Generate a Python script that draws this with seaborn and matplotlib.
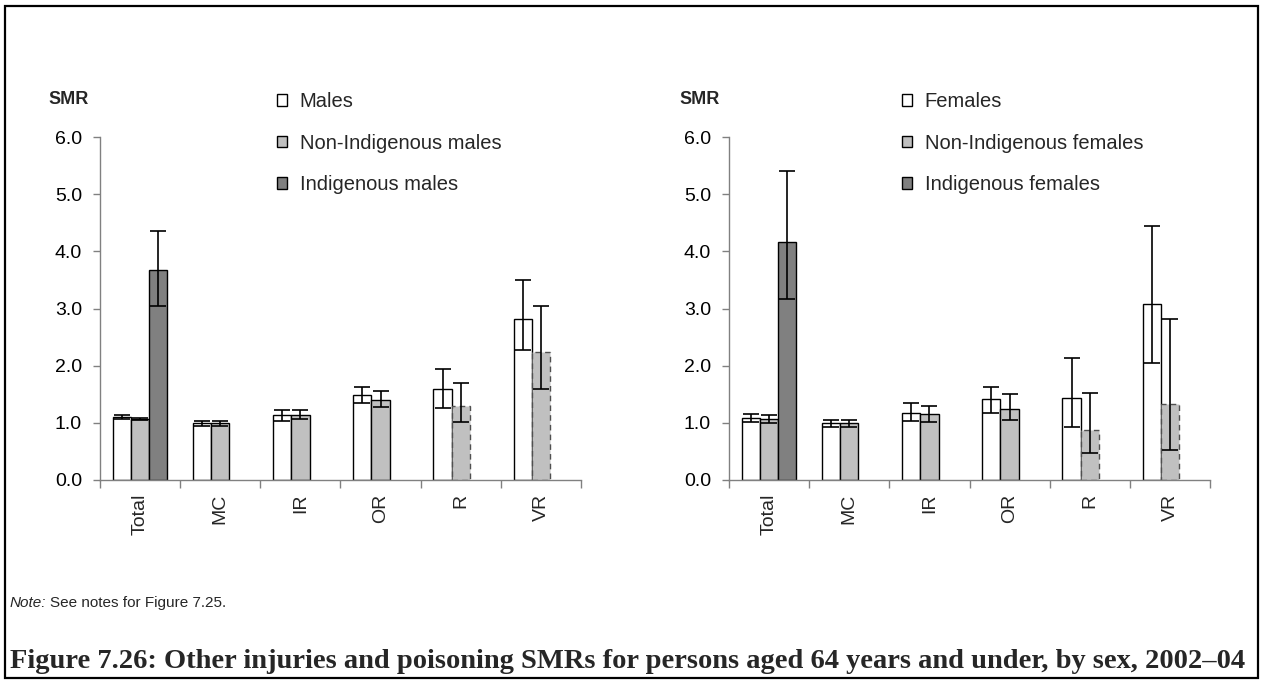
import matplotlib
matplotlib.use("Agg")
import matplotlib.pyplot as plt
import seaborn as sns
import pandas as pd
from matplotlib.patches import Rectangle
from matplotlib.container import BarContainer
from matplotlib.ticker import FixedLocator, FormatStrFormatter

# ---- data -------------------------------------------------------------
categories = ["Total", "MC", "IR", "OR", "R", "VR"]

male_groups = ["Males", "Non-Indigenous males", "Indigenous males"]
male_all = [1.10, 0.99, 1.13, 1.49, 1.59, 2.82]
male_all_lo = [1.07, 0.95, 1.04, 1.34, 1.26, 2.28]
male_all_hi = [1.13, 1.03, 1.23, 1.62, 1.95, 3.50]
male_nonind = [1.07, 0.99, 1.14, 1.40, 1.30, 2.24]
male_nonind_lo = [1.05, 0.95, 1.06, 1.27, 1.01, 1.59]
male_nonind_hi = [1.09, 1.03, 1.23, 1.56, 1.69, 3.04]
male_ind = [3.68]
male_ind_lo = [3.05]
male_ind_hi = [4.36]

female_groups = ["Females", "Non-Indigenous females", "Indigenous females"]
female_all = [1.09, 0.99, 1.18, 1.41, 1.44, 3.08]
female_all_lo = [1.02, 0.92, 1.04, 1.17, 0.92, 2.05]
female_all_hi = [1.16, 1.05, 1.34, 1.63, 2.14, 4.45]
female_nonind = [1.06, 0.99, 1.15, 1.24, 0.88, 1.33]
female_nonind_lo = [1.00, 0.92, 1.01, 1.05, 0.47, 0.53]
female_nonind_hi = [1.13, 1.05, 1.30, 1.50, 1.53, 2.81]
female_ind = [4.17]
female_ind_lo = [3.17]
female_ind_hi = [5.40]

# Indigenous SMRs are only available for the total
ind_categories = ["Total"]
# non-Indigenous estimates shown with a dashed outline
dashed_categories = ["R", "VR"]

yticks = [0, 1, 2, 3, 4, 5, 6]

# ---- style ------------------------------------------------------------
sns.set_style("ticks")
plt.rcParams["font.family"] = ["Liberation Sans", "DejaVu Sans"]

colors = ["#ffffff", "#c0c0c0", "#808080"]
axis_grey = "#808080"

W, H = 1263, 680
fig = plt.figure(figsize=(W / 100, H / 100), dpi=100)


def fx(px):
    return px / W


def fy(py):
    return 1 - py / H


def build_frame(groups, series):
    rows = []
    for g, (cats, vals, lo, hi) in zip(groups, series):
        for c, v, l, h in zip(cats, vals, lo, hi):
            rows.append({"category": c, "group": g, "smr": v, "lo": l, "hi": h})
    return pd.DataFrame(rows)


def draw_panel(ax, groups, df, legend_x):
    sns.barplot(data=df, x="category", y="smr", hue="group",
                order=categories, hue_order=groups,
                palette=dict(zip(groups, colors)), saturation=1,
                width=0.68, edgecolor="black", linewidth=1.0,
                errorbar=None, legend=False, ax=ax, zorder=2)

    lookup = df.set_index(["group", "category"])
    bar_containers = [c for c in ax.containers if isinstance(c, BarContainer)]
    for gi, container in enumerate(bar_containers):
        g = groups[gi]
        for bar in container:
            xc = bar.get_x() + bar.get_width() / 2
            cat = categories[int(round(xc))]
            row = lookup.loc[(g, cat)]
            v = bar.get_height()
            if gi == 1 and cat in dashed_categories:
                bar.set_linestyle((0, (4, 3)))
                bar.set_edgecolor("#505050")
            ax.errorbar(xc, v, yerr=[[v - row["lo"]], [row["hi"] - v]],
                        fmt="none", ecolor="black", elinewidth=1.2,
                        capsize=6, capthick=1.2, zorder=5)

    ax.set_xlim(-0.5, len(categories) - 0.5)
    ax.set_ylim(0, 6)
    ax.set_xlabel("")
    ax.set_ylabel("")
    sns.despine(ax=ax)
    for side in ("left", "bottom"):
        ax.spines[side].set_color(axis_grey)
        ax.spines[side].set_linewidth(1.0)

    ax.yaxis.set_major_locator(FixedLocator(yticks))
    ax.yaxis.set_major_formatter(FormatStrFormatter("%.1f"))
    ax.tick_params(axis="y", which="major", direction="out", length=5,
                   width=1.0, color=axis_grey, labelsize=14, pad=8,
                   labelcolor="black")

    ax.set_xticks(range(len(categories)))
    ax.set_xticklabels(categories, rotation=90, fontsize=14)
    ax.set_xticks([i - 0.5 for i in range(len(categories) + 1)], minor=True)
    ax.tick_params(axis="x", which="major", length=0, pad=10)
    ax.tick_params(axis="x", which="minor", direction="out", length=6,
                   width=1.0, color=axis_grey)

    handles = [Rectangle((0, 0), 1, 1, facecolor=c, edgecolor="black",
                         linewidth=1.0) for c in colors]
    leg = fig.legend(handles, groups, loc="upper left",
                     bbox_to_anchor=(fx(legend_x), fy(92)),
                     bbox_transform=fig.transFigure, frameon=False,
                     fontsize=14.5, handlelength=0.52, handleheight=0.52,
                     handletextpad=0.6, labelspacing=1.12,
                     borderpad=0, borderaxespad=0)
    return leg


male_df = build_frame(male_groups, [
    (categories, male_all, male_all_lo, male_all_hi),
    (categories, male_nonind, male_nonind_lo, male_nonind_hi),
    (ind_categories, male_ind, male_ind_lo, male_ind_hi),
])
female_df = build_frame(female_groups, [
    (categories, female_all, female_all_lo, female_all_hi),
    (categories, female_nonind, female_nonind_lo, female_nonind_hi),
    (ind_categories, female_ind, female_ind_lo, female_ind_hi),
])

ax_m = fig.add_axes([fx(100), fy(480), fx(581 - 100), (480 - 137) / H])
ax_f = fig.add_axes([fx(729), fy(480), fx(1210 - 729), (480 - 137) / H])

draw_panel(ax_m, male_groups, male_df, 277)
draw_panel(ax_f, female_groups, female_df, 902)

for x in (48, 679):
    fig.text(fx(x), fy(99), "SMR", fontsize=13, fontweight="bold",
             va="center", ha="left")

# note and caption
renderer = fig.canvas.get_renderer()
note = fig.text(fx(10), fy(607), "Note:", fontsize=11, style="italic",
                va="baseline", ha="left")
bb = note.get_window_extent(renderer)
fig.text(fx(bb.x1 + 4), fy(607), "See notes for Figure 7.25.", fontsize=11,
         va="baseline", ha="left")

fig.text(fx(10), fy(668),
         "Figure 7.26: Other injuries and poisoning SMRs for persons aged 64 "
         "years and under, by sex, 2002\u201304",
         fontsize=20.5, fontweight="bold", family=["Liberation Serif", "DejaVu Serif"],
         va="baseline", ha="left")

# page frame
fig.patches.append(Rectangle((fx(5), fy(678)), fx(1258 - 5), (678 - 6) / H,
                             transform=fig.transFigure, fill=False,
                             edgecolor="black", linewidth=1.6))

fig.savefig("out.png", dpi=100)
